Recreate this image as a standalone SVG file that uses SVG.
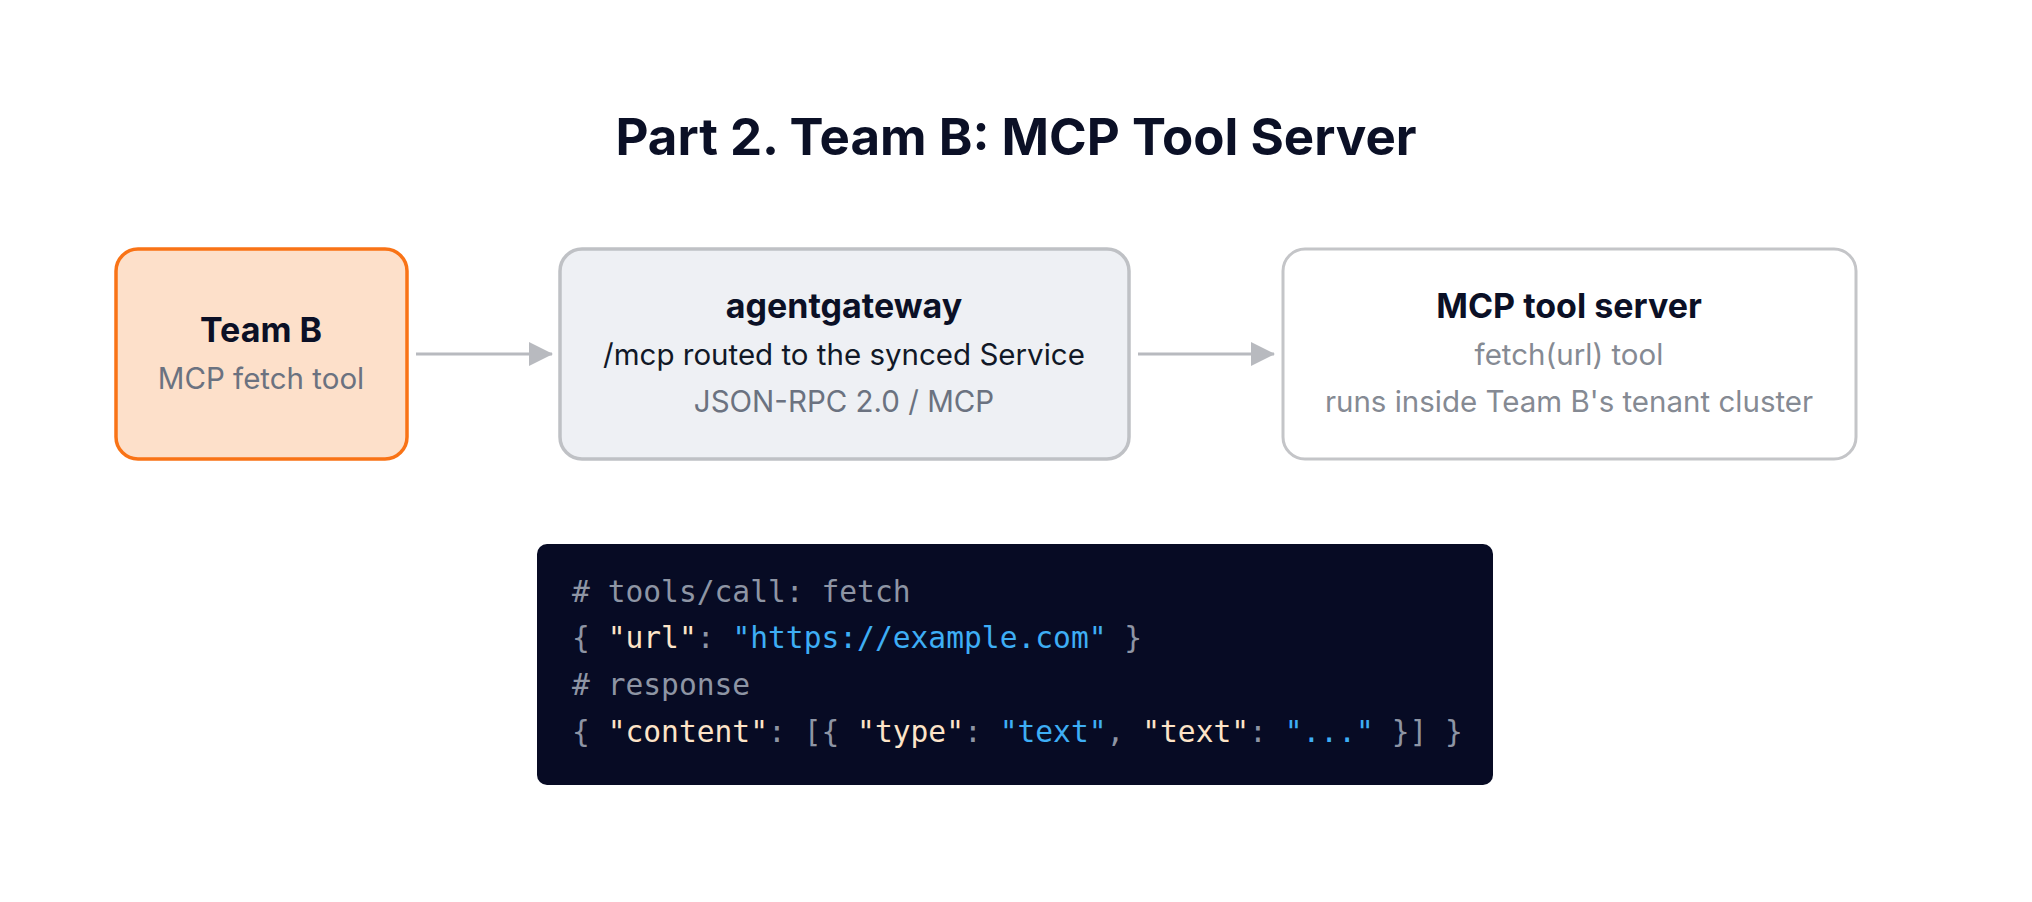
<svg xmlns="http://www.w3.org/2000/svg" width="2032" height="902" viewBox="0 0 2032 902">
<style>
.title{font-family:Inter,"Noto Sans","Liberation Sans",sans-serif;font-weight:700;font-size:51px;fill:#0b1026;text-anchor:middle}
.nt{font-family:Inter,"Noto Sans","Liberation Sans",sans-serif;font-weight:700;font-size:34px;fill:#0b1026;text-anchor:middle}
.ns{font-family:Inter,"Noto Sans","Liberation Sans",sans-serif;font-weight:400;font-size:29.5px;fill:#6b7280;text-anchor:middle}
.nd{fill:#111827}
.nl{fill:#858a93}
.conn{stroke:#b8babf;stroke-width:3;fill:none}
.code{font-family:"DejaVu Sans Mono","Liberation Mono",monospace;font-size:29.6px}
.c{fill:#8e95a4}
.p{fill:#8e95a4}
.k{fill:#fde4c8}
.s{fill:#3eaef5}
</style>
<defs>
<marker id="ah" markerWidth="24" markerHeight="24" viewBox="0 0 24 24" refX="23" refY="12" orient="auto" markerUnits="userSpaceOnUse">
<path d="M0,0 L24,12 L0,24 Z" fill="#b8babf"/>
</marker>
</defs>
<rect width="2032" height="902" fill="#ffffff"/>
<text class="title" x="1016" y="155">Part 2. Team B: MCP Tool Server</text>
<g id="connectors">
<line class="conn" x1="416" y1="354" x2="552" y2="354" marker-end="url(#ah)"/>
<line class="conn" x1="1138" y1="354" x2="1274" y2="354" marker-end="url(#ah)"/>
</g>
<g id="teamb">
<rect x="116" y="249" width="291" height="210" rx="22" fill="#fde0ca" stroke="#f97316" stroke-width="3.5"/>
<text class="nt" x="261" y="342">Team B</text>
<text class="ns" x="261" y="389">MCP fetch tool</text>
</g>
<g id="agentgateway">
<rect x="560" y="249" width="569" height="210" rx="22" fill="#eef0f4" stroke="#bfc1c5" stroke-width="3.5"/>
<text class="nt" x="844" y="318">agentgateway</text>
<text class="ns nd" x="844" y="365">/mcp routed to the synced Service</text>
<text class="ns" x="844" y="412">JSON-RPC 2.0 / MCP</text>
</g>
<g id="mcpserver">
<rect x="1283" y="249" width="573" height="210" rx="22" fill="#ffffff" stroke="#c4c5c8" stroke-width="3"/>
<text class="nt" x="1569" y="318">MCP tool server</text>
<text class="ns nl" x="1569" y="365">fetch(url) tool</text>
<text class="ns nl" x="1569" y="412">runs inside Team B's tenant cluster</text>
</g>
<g id="code">
<rect x="537" y="544" width="956" height="241" rx="10" fill="#070b24"/>
<text class="code" xml:space="preserve" x="572" y="602"><tspan class="c"># tools/call: fetch</tspan></text>
<text class="code" xml:space="preserve" x="572" y="648"><tspan class="p">{ </tspan><tspan class="k">"url"</tspan><tspan class="p">: </tspan><tspan class="s">"https://example.com"</tspan><tspan class="p"> }</tspan></text>
<text class="code" xml:space="preserve" x="572" y="695"><tspan class="c"># response</tspan></text>
<text class="code" xml:space="preserve" x="572" y="742"><tspan class="p">{ </tspan><tspan class="k">"content"</tspan><tspan class="p">: [{ </tspan><tspan class="k">"type"</tspan><tspan class="p">: </tspan><tspan class="s">"text"</tspan><tspan class="p">, </tspan><tspan class="k">"text"</tspan><tspan class="p">: </tspan><tspan class="s">"..."</tspan><tspan class="p"> }] }</tspan></text>
</g>
</svg>
